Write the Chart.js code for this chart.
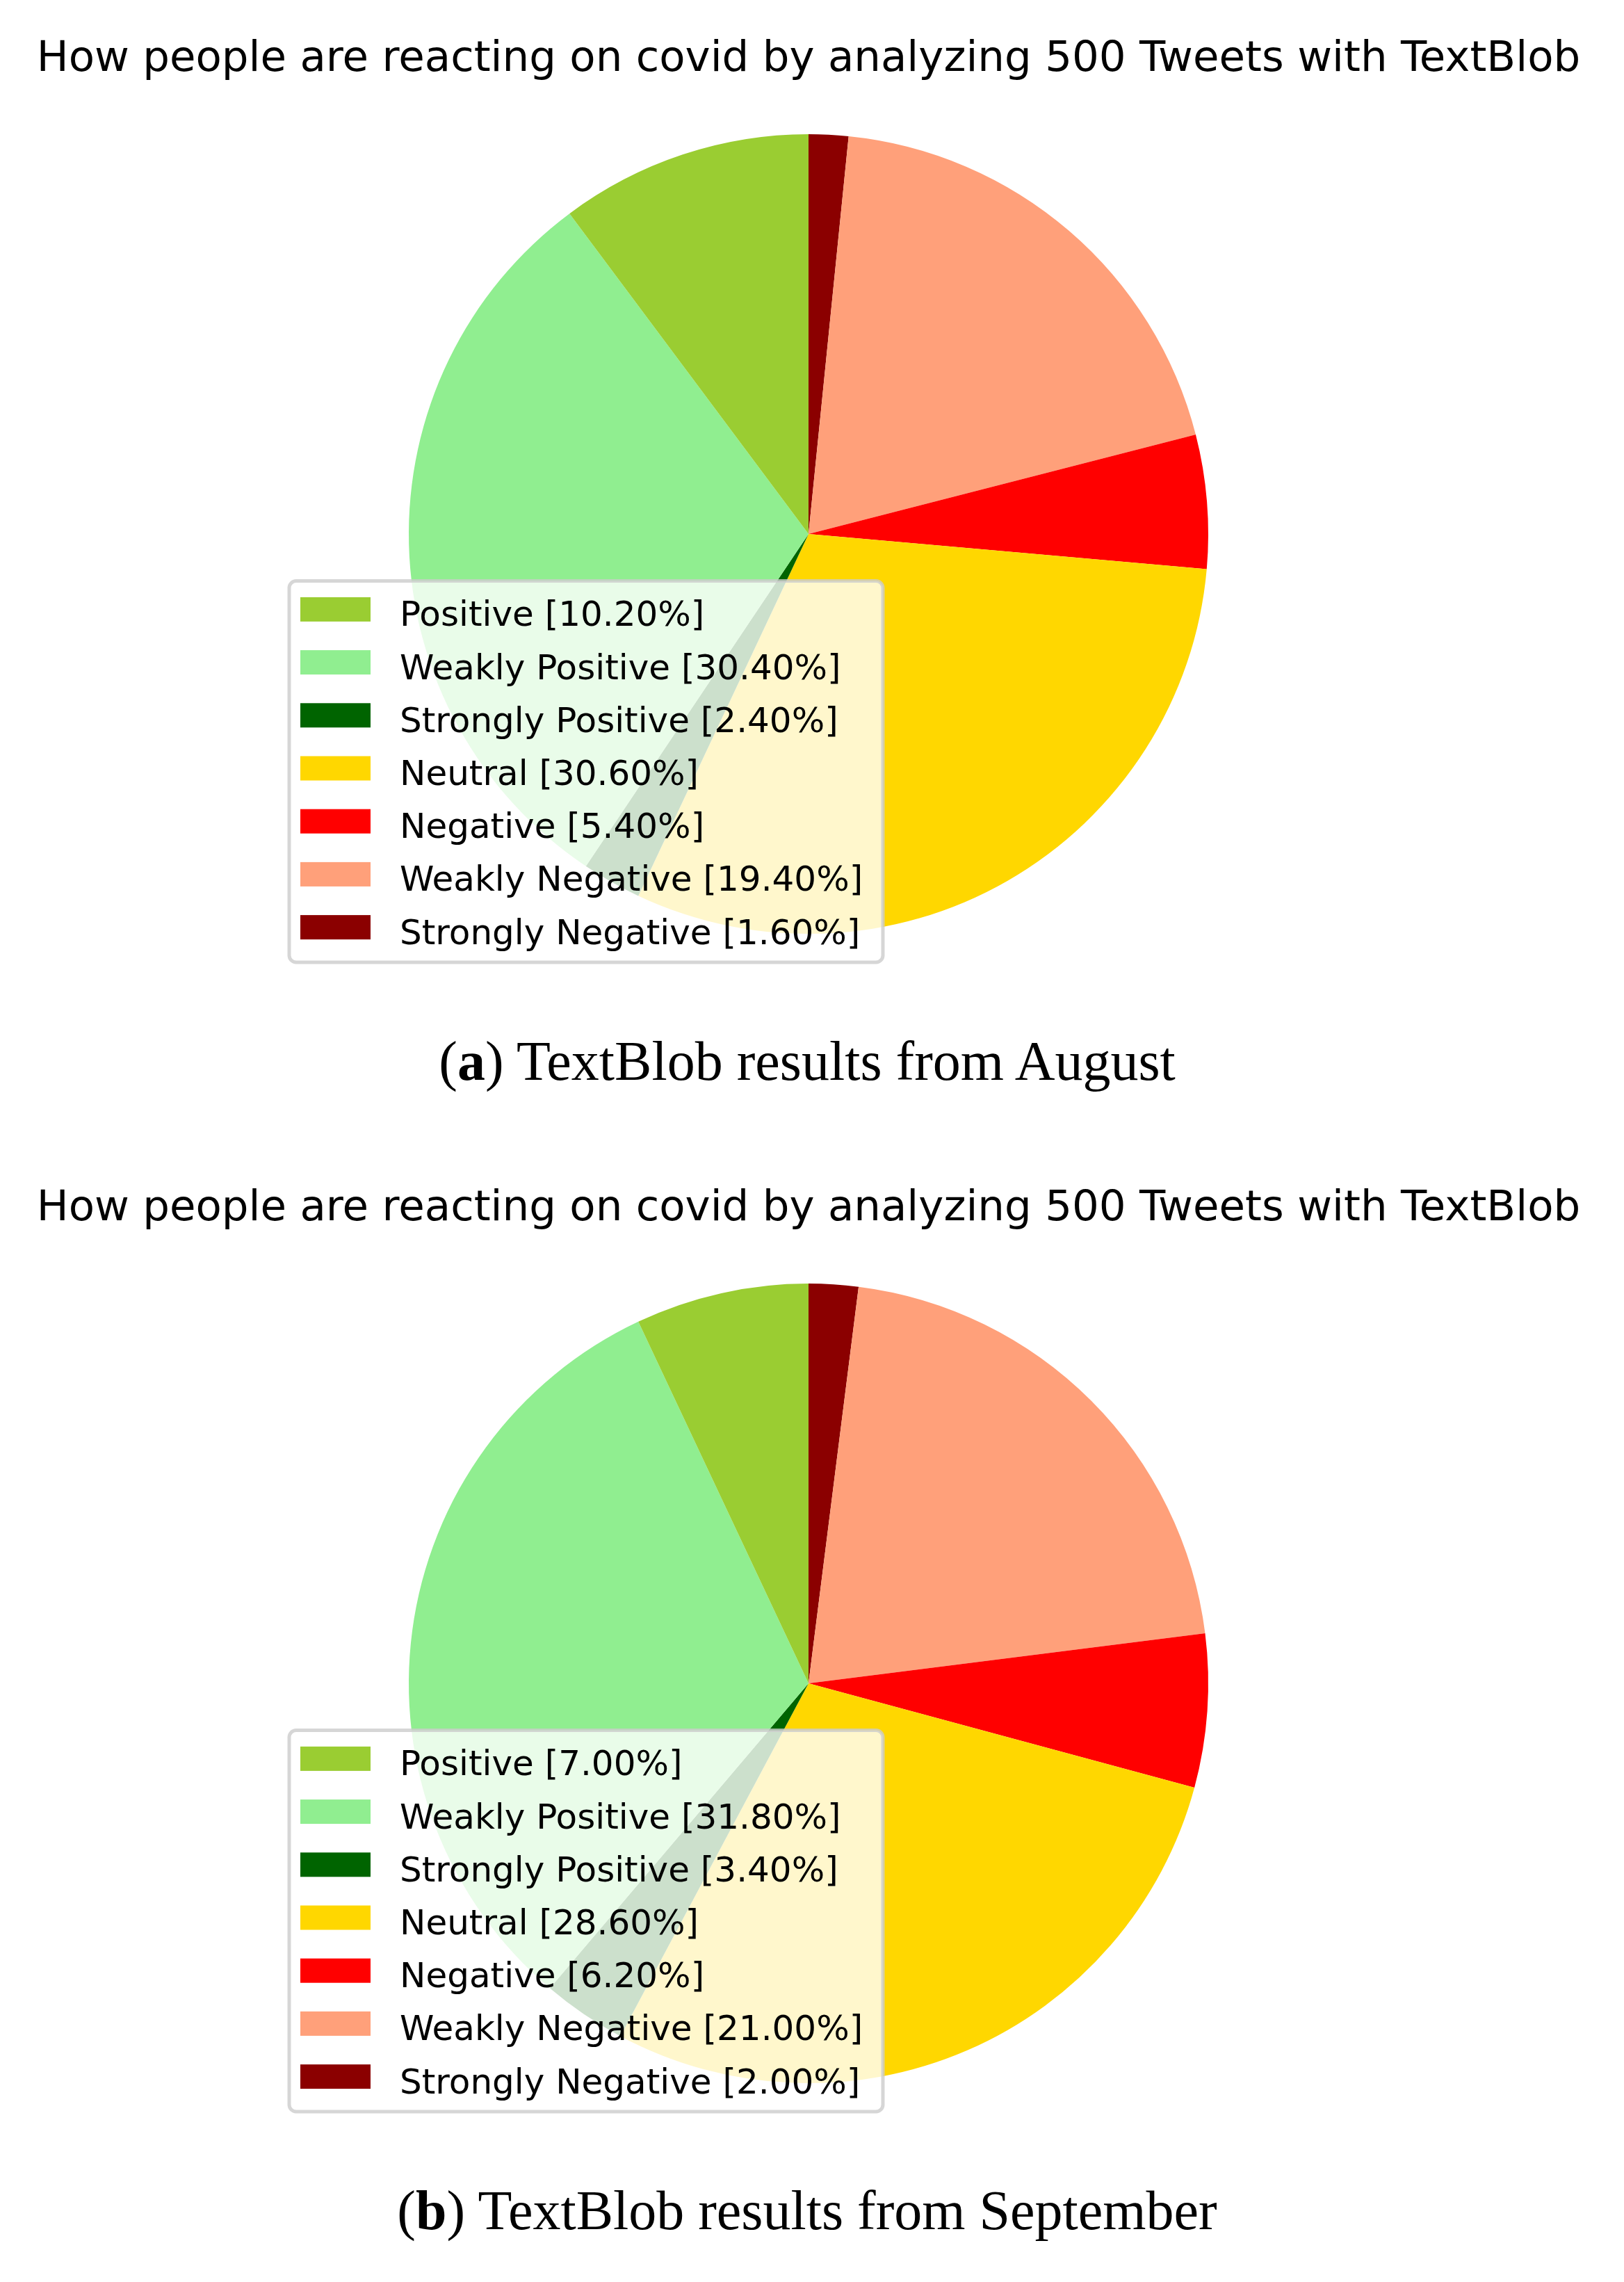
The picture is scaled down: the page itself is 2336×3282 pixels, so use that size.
<!DOCTYPE html>
<html><head><meta charset="utf-8">
<script src="https://cdn.jsdelivr.net/npm/chart.js@4.4.1/dist/chart.umd.min.js"></script>
<style>
html,body{margin:0;padding:0;background:#fff;width:2336px;height:3282px;overflow:hidden;}
.block{position:absolute;left:0;width:2336px;height:1653px;}
canvas{position:absolute;left:0;top:0;}
.cap{position:absolute;left:0;width:2322px;text-align:center;top:1486px;font-family:'Liberation Serif',serif;font-size:80px;line-height:80px;color:#000;white-space:nowrap;}
</style></head><body>
<div class="block" style="top:0px"><canvas id="c1" width="2336" height="1440"></canvas><div class="cap">(<b>a</b>) TextBlob results from August</div></div>
<div class="block" style="top:1653px"><canvas id="c2" width="2336" height="1440"></canvas><div class="cap">(<b>b</b>) TextBlob results from September</div></div>
<script>
const categories = ['Positive','Weakly Positive','Strongly Positive','Neutral','Negative','Weakly Negative','Strongly Negative'];
const augustPct = [10.2, 30.4, 2.4, 30.6, 5.4, 19.4, 1.6];
const septemberPct = [7.0, 31.8, 3.4, 28.6, 6.2, 21.0, 2.0];
const sliceColors = ['#9ACD32','#90EE90','#006400','#FFD700','#FF0000','#FFA07A','#8B0000'];
const chartTitle = 'How people are reacting on covid by analyzing 500 Tweets with TextBlob';

const overlayLegend = {
  id: 'overlayLegend',
  afterDraw(chart, args, opts) {
    const ctx = chart.ctx;
    const labels = opts.labels, values = opts.values, colors = opts.colors;
    ctx.save();
    const x0 = 416, y0 = 835.5, x1 = 1270, y1 = 1384, r = 10;
    ctx.beginPath();
    ctx.roundRect(x0, y0, x1 - x0, y1 - y0, r);
    ctx.fillStyle = 'rgba(255,255,255,0.8)';
    ctx.fill();
    ctx.lineWidth = 5;
    ctx.strokeStyle = 'rgba(204,204,204,0.8)';
    ctx.stroke();
    ctx.font = '50px "DejaVu Sans"';
    ctx.textBaseline = 'alphabetic';
    ctx.textAlign = 'left';
    for (let i = 0; i < labels.length; i++) {
      const cy = 876.4 + i * 76.2;
      ctx.fillStyle = colors[i];
      ctx.fillRect(432, cy - 17.5, 101, 35);
      ctx.fillStyle = '#000';
      ctx.fillText(labels[i] + ' [' + values[i].toFixed(2) + '%]', 575, cy + 24);
    }
    ctx.restore();
  }
};

function makePie(id, values) {
  // matplotlib draws counter-clockwise from 12 o'clock; Chart.js goes clockwise, so reverse order
  const revLabels = categories.slice().reverse();
  const revValues = values.slice().reverse();
  const revColors = sliceColors.slice().reverse();
  new Chart(document.getElementById(id), {
    type: 'pie',
    data: { labels: revLabels, datasets: [{ data: revValues, backgroundColor: revColors, borderWidth: 0, hoverOffset: 0 }] },
    options: {
      responsive: false,
      animation: false,
      devicePixelRatio: 1,
      radius: 575,
      rotation: 0,
      layout: { padding: { top: 0, left: 0, right: 10, bottom: 27 } },
      plugins: {
        legend: { display: false },
        tooltip: { enabled: false },
        title: {
          display: true, text: chartTitle, color: '#000',
          font: { family: 'DejaVu Sans', size: 61, weight: 'normal', lineHeight: 1.2 },
          padding: { top: 50, bottom: 0 }
        },
        overlayLegend: { labels: categories, values: values, colors: sliceColors }
      }
    },
    plugins: [overlayLegend]
  });
}
makePie('c1', augustPct);
makePie('c2', septemberPct);
</script>
</body></html>
